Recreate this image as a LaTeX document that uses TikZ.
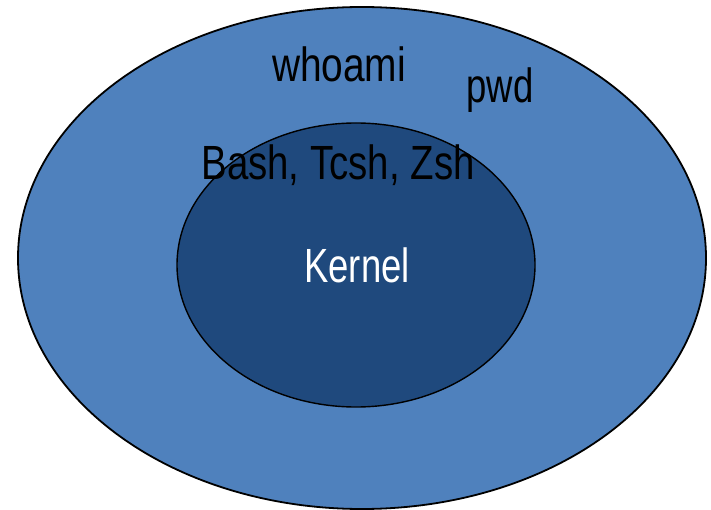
\documentclass[tikz,border=0pt]{standalone}
\usepackage{fontspec}
\setmainfont{Liberation Sans}
\usetikzlibrary{shapes.geometric}
\definecolor{layerouter}{HTML}{4F81BD}
\definecolor{layerinner}{HTML}{1F497D}
\tikzset{
  layer/.style={ellipse, draw=black, inner sep=0pt},
  lbl/.style={anchor=base, inner sep=0pt, font=\fontsize{48}{48}\selectfont},
}
\newcommand{\narrowtext}[2][0.79]{\scalebox{#1}[1]{#2}}
\begin{document}
\begin{tikzpicture}[x=1pt, y=-1pt]
  \useasboundingbox (0,0) rectangle (711,510);
  % shell layer and kernel core
  \node[layer, fill=layerouter, line width=1.8pt, minimum width=688pt, minimum height=502pt] (shell) at (362,258) {};
  \node[layer, fill=layerinner, line width=1.4pt, minimum width=358pt, minimum height=284pt] (kernel) at (356,265) {};
  % labels
  \node[lbl] (whoami) at (339,82) {\narrowtext[0.81]{whoami}};
  \node[lbl] (pwd) at (500,103) {\narrowtext[0.76]{pwd}};
  \node[lbl] (shells) at (338,180) {\narrowtext[0.8]{Bash, Tcsh, Zsh}};
  \node[lbl, text=white] (kname) at (357,283) {\narrowtext[0.76]{Kernel}};
\end{tikzpicture}
\end{document}
